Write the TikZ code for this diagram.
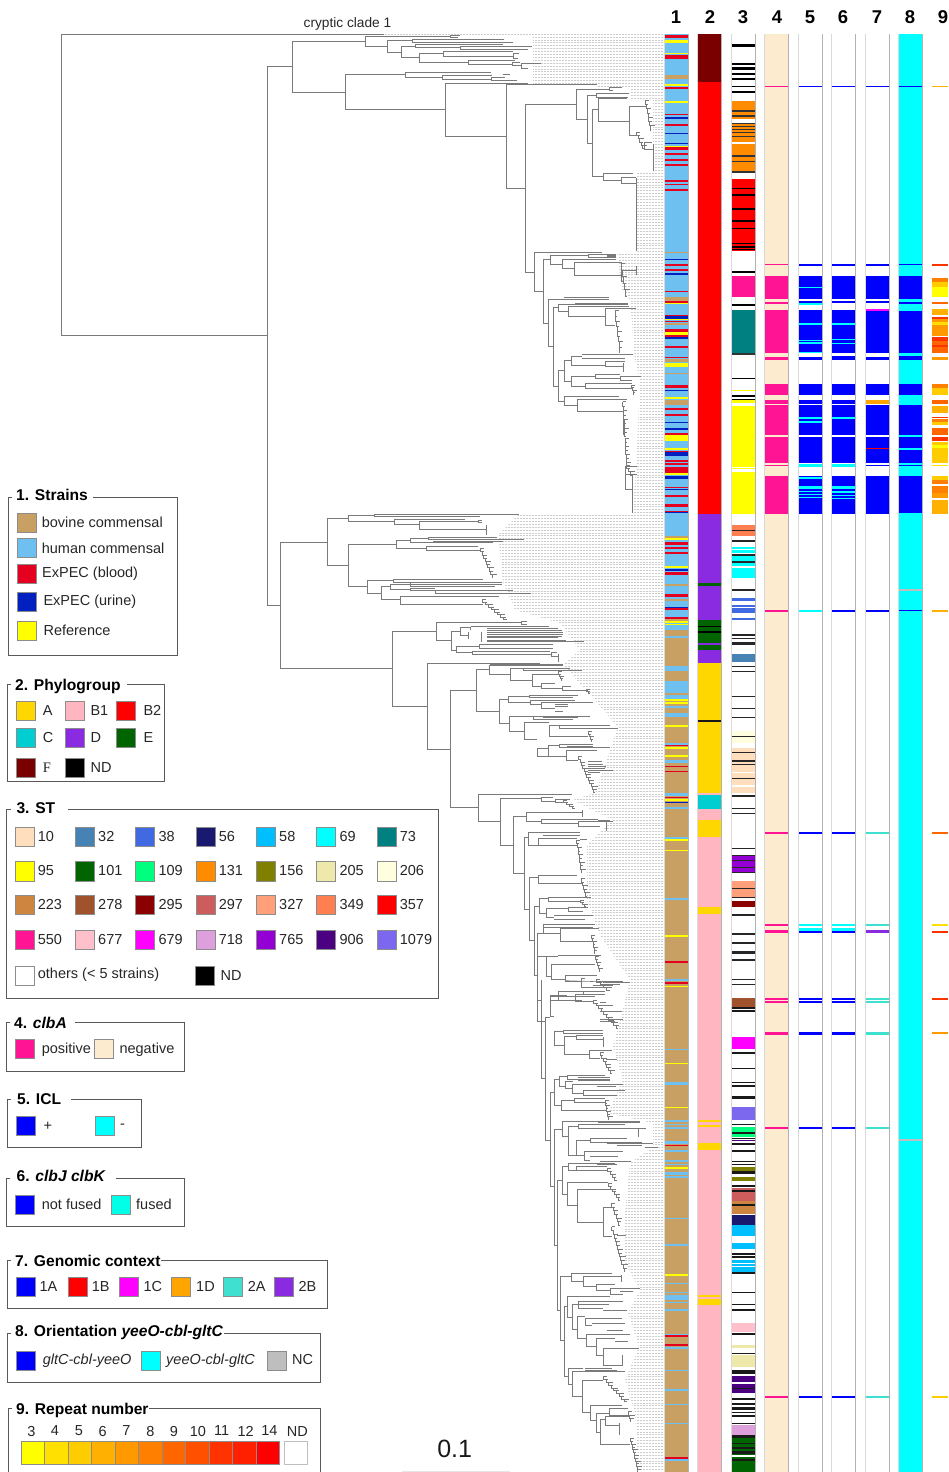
\documentclass[tikz,border=0pt]{standalone}
\usepackage{fontspec}
\setmainfont{Liberation Sans}
\newfontfamily\serifF{Liberation Serif}
\definecolor{cyan}{RGB}{0,255,255}\definecolor{magenta}{RGB}{255,0,255}\definecolor{yellow}{RGB}{255,255,0}\definecolor{red}{RGB}{255,0,0}\definecolor{blue}{RGB}{0,0,255}
\definecolor{cTan}{HTML}{C8A064}\definecolor{cHum}{HTML}{6EC0F0}\definecolor{cRed}{HTML}{E60020}\definecolor{cUr}{HTML}{0020C0}
\definecolor{cGold}{HTML}{FFD700}\definecolor{cPink}{HTML}{FFB6C1}\definecolor{cTeal}{HTML}{00CED1}\definecolor{cPur}{HTML}{8A2BE2}
\definecolor{cGrn}{HTML}{006400}\definecolor{cF}{HTML}{7A0000}\definecolor{cBis}{HTML}{FDEBD0}\definecolor{cDP}{HTML}{FF1493}
\definecolor{s10}{HTML}{FFDEBD}\definecolor{s32}{HTML}{4682B4}\definecolor{s38}{HTML}{4169E1}\definecolor{s56}{HTML}{191970}
\definecolor{s58}{HTML}{00BFFF}\definecolor{s73}{HTML}{008080}\definecolor{s109}{HTML}{00FF7F}\definecolor{s131}{HTML}{FF8C00}
\definecolor{s156}{HTML}{808000}\definecolor{s205}{HTML}{EEE8AA}\definecolor{s206}{HTML}{FFFFE0}\definecolor{s223}{HTML}{CD853F}
\definecolor{s278}{HTML}{A0522D}\definecolor{s295}{HTML}{8B0000}\definecolor{s297}{HTML}{CD5C5C}\definecolor{s327}{HTML}{FFA07A}
\definecolor{s349}{HTML}{FF7F50}\definecolor{s677}{HTML}{FFC0CB}\definecolor{s718}{HTML}{DDA0DD}\definecolor{s765}{HTML}{9400D3}
\definecolor{s906}{HTML}{4B0082}\definecolor{s1079}{HTML}{7B68EE}\definecolor{cTq}{HTML}{40E0D0}\definecolor{cFus}{HTML}{00FFE6}
\definecolor{cOr}{HTML}{FFA500}\definecolor{cNC}{HTML}{BEBEBE}
\definecolor{r3}{HTML}{FFFF00}\definecolor{r4}{HTML}{FFE000}\definecolor{r5}{HTML}{FFCC00}\definecolor{r6}{HTML}{FFB000}
\definecolor{r7}{HTML}{FF9900}\definecolor{r8}{HTML}{FF8000}\definecolor{r9}{HTML}{FF6600}\definecolor{r10}{HTML}{FF5000}
\definecolor{r11}{HTML}{FF3300}\definecolor{r12}{HTML}{FF2000}\definecolor{r14}{HTML}{FF0000}
\expandafter\def\csname xl1\endcsname{664}\expandafter\def\csname xr1\endcsname{688}
\expandafter\def\csname xl2\endcsname{697}\expandafter\def\csname xr2\endcsname{721}
\expandafter\def\csname xl3\endcsname{731}\expandafter\def\csname xr3\endcsname{755}
\expandafter\def\csname xl4\endcsname{764}\expandafter\def\csname xr4\endcsname{788}
\expandafter\def\csname xl5\endcsname{798}\expandafter\def\csname xr5\endcsname{822}
\expandafter\def\csname xl6\endcsname{831}\expandafter\def\csname xr6\endcsname{855}
\expandafter\def\csname xl7\endcsname{865}\expandafter\def\csname xr7\endcsname{889}
\expandafter\def\csname xl8\endcsname{898}\expandafter\def\csname xr8\endcsname{922}
\expandafter\def\csname xl9\endcsname{932}\expandafter\def\csname xr9\endcsname{948}
\newcommand\Cb[3]{\foreach \p/\q in {#3}{\fill[#2] (\csname xl#1\endcsname,\p) rectangle (\csname xr#1\endcsname,\q);}}
\newcommand\Br[5]{\draw[tr] (#3,#2) -| (#1,#4) -- (#5,#4);}
\newcommand\Ln[3]{\draw[tr] (#1,#2) -- (#3,#2);}
\newcommand\Stair[5]{\foreach \i in {1,...,#5}{%
 \pgfmathsetmacro\xa{#1+(#3-#1)*(\i-1)/#5}\pgfmathsetmacro\xb{#1+(#3-#1)*\i/#5}%
 \pgfmathsetmacro\ya{#2+(#4-#2)*(\i-1)/#5}\pgfmathsetmacro\yb{#2+(#4-#2)*\i/#5}%
 \pgfmathsetmacro\tp{\xa+4+mod(\i*7,13)}%
 \draw[tr,line width=.45pt] (\xa,\ya)--(\xa,\yb)--(\xb,\yb); \draw[tr,line width=.45pt] (\xa,\ya)--(\tp,\ya);}}
\newcommand\Sw[3]{\fill[#3,draw=black!45,line width=.6pt] (#1,#2) rectangle ++(57,57);}
\newcommand\Lg[7]{\draw[frm] (#1+12,#2) -| (#1,#4) -| (#3,#2) -- (#5,#2);\node[ttl] at (#1+23,#2+#7) {#6};}
\tikzset{
 tr/.style={draw=black!52,line width=.6pt},
 frm/.style={draw=black!65,line width=.7pt},
 ttl/.style={anchor=west,inner sep=0pt,font=\fontsize{15.6}{17}\selectfont\bfseries},
 lb/.style={anchor=west,inner sep=0pt,font=\fontsize{14.5}{16}\selectfont,text=black!85},
 hd/.style={inner sep=0pt,font=\fontsize{18.5}{20}\selectfont\bfseries},
 zA/.style={shift={(0,0)},x=1pt,y=-.33333pt},
 zB/.style={shift={(0,500)},x=1pt,y=-.33333pt},
 zC/.style={shift={(0,1000)},x=1pt,y=-.33333pt},
}
\begin{document}
\begin{tikzpicture}[x=1pt,y=-1pt]
\useasboundingbox (0,0) rectangle (948,1472);
% leader lines
\begin{scope}
\clip (383,34) -- (383,37) -- (533,37) -- (533,84) -- (597,84) -- (597,88) -- (630,88) -- (630,100) -- (653,100) -- (653,172) -- (637,172) -- (637,252) -- (617,252) -- (622,290) -- (630,300) -- (635,360) -- (640,380) -- (636,470) -- (632,514)
 -- (519,514) -- (498,535) -- (503,582) -- (515,610) -- (560,623) -- (580,650) -- (563,665) -- (595,700) -- (618,727) -- (595,793) -- (573,800) -- (613,820) -- (587,845) -- (587,900) -- (600,935) -- (630,980) -- (622,1013) -- (613,1047) -- (623,1080) -- (608,1113) -- (653,1123) -- (653,1147) -- (630,1163) -- (625,1213) -- (625,1263) -- (640,1290) -- (628,1313) -- (639,1347) -- (625,1380) -- (635,1413) -- (639,1472) -- (663,1472) -- (663,34) -- cycle;
\foreach \yy in {34,36.9,...,1472}{\draw[black!20,line width=.5pt,dash pattern=on .6pt off .9pt] (380,\yy) -- (663,\yy);}
\end{scope}
% tree
\draw[tr] (384,34) -| (61,335) -- (267,335);
\draw[tr] (267,67) -- (267,605);
\begin{scope}[shift={(260,0)},x=.33333pt,y=-.33333pt]
\Ln{20}{200}{98}
\Br{98}{124}{315}{277}{256}
\Br{315}{110}{570}{138}{382}\Br{570}{105}{600}{112}{595}
\Br{382}{122}{457}{156}{425}\Br{457}{118}{733}{126}{760}
\Br{425}{139}{467}{173}{478}\Br{467}{134}{730}{143}{600}\Br{600}{140}{815}{148}{803}
\Br{478}{160}{550}{186}{625}\Br{550}{154}{760}{168}{760}\Br{760}{160}{778}{175}{775}
\Br{625}{181}{765}{192}{757}\Br{757}{186}{780}{197}{783}\Br{783}{190}{843}{205}{805}
\Br{256}{224}{437}{328}{557}
\Br{437}{217}{692}{232}{547}\Br{547}{225}{695}{237}{695}\Br{695}{232}{735}{240}{770}\Ln{730}{224}{750}
\Br{557}{250}{803}{409}{740}
\Br{740}{254}{1010}{565}{797}
\Br{797}{313}{950}{817}{824}
\Br{950}{268}{1047}{358}{983}\Br{1047}{262}{1087}{272}{1060}
\Br{983}{285}{1010}{430}{996}\Br{1010}{281}{1107}{291}{1105}
\Br{996}{328}{1016}{530}{1030}
\Br{1016}{296}{1100}{363}{1107}
\Br{1107}{318}{1157}{406}{1130}
\Stair{1157}{300}{1173}{390}{7}
\Stair{1130}{396}{1152}{445}{5}
\Br{1152}{428}{1175}{448}{1180}\draw[tr] (1181,432)--(1181,512);
\Br{1030}{520}{1118}{541}{1085}\Br{1085}{533}{1128}{550}{1128}\draw[tr] (1128,533)--(1128,752);
% second subclade
\Br{824}{758}{1025}{875}{851}
\Br{851}{778}{872}{970}{866}
\Br{872}{766}{985}{793}{908}\Br{985}{762}{1068}{772}{1040}\draw[tr,line width=1.1pt] (1040,768)--(1068,768);\draw[tr,line width=1.1pt] (1040,773)--(1068,773);
\Br{908}{778}{1068}{805}{944}\Br{944}{788}{1085}{826}{1083}
\Br{1083}{810}{1128}{845}{1090}\draw[tr] (1128,798)--(1128,826);\Stair{1083}{790}{1100}{888}{5}
\Br{866}{897}{1048}{1040}{880}\Ln{912}{893}{1048}
\Br{880}{922}{895}{1158}{896}
\Br{895}{912}{1080}{935}{925}\Br{925}{918}{1108}{948}{1035}\draw[tr,line width=1.1pt] (945,912)--(1105,912);
\Br{1035}{925}{1127}{975}{1065}\Stair{1065}{932}{1080}{1056}{8}
\Br{896}{1110}{912}{1205}{914}
\Br{912}{1080}{935}{1143}{935}
\Br{935}{1068}{965}{1095}{1037}\Ln{965}{1064}{1120}\Ln{965}{1076}{1095}\Br{1037}{1085}{1095}{1100}{1090}\draw[tr] (1090,1090)--(1090,1115);
\Br{935}{1130}{1005}{1158}{975}\Br{1005}{1122}{1080}{1135}{1080}\Br{1080}{1130}{1142}{1142}{1115}
\Br{975}{1150}{1115}{1166}{1115}\Stair{1115}{1156}{1122}{1184}{4}
\Br{914}{1190}{1078}{1215}{952}
\Br{952}{1198}{1100}{1234}{1088}
\Stair{1088}{1205}{1095}{1310}{8}\draw[tr,line width=1.1pt] (1090,1230)--(1090,1306);
\Stair{1095}{1315}{1100}{1400}{7}
\Br{1097}{1400}{1130}{1468}{1117}\draw[tr] (1097,1423)--(1130,1423);\draw[tr] (1116,1425)--(1116,1540);
\Stair{1100}{1395}{1118}{1425}{3}
\end{scope}
\begin{scope}[shift={(260,500)},x=.33333pt,y=-.33333pt]
\Ln{20}{315}{60}
\Br{60}{126}{202}{506}{396}
\Br{202}{55}{265}{196}{264}
\Br{265}{46}{343}{64}{404}\Br{343}{43}{777}{48}{660}
\Br{404}{57}{615}{72}{478}\Br{478}{65}{655}{87}{680}\Br{655}{60}{665}{68}{665}\draw[tr](680,75)--(680,105);
\Br{264}{132}{409}{260}{322}
\Br{409}{120}{450}{145}{500}
\Br{450}{115}{505}{127}{700}\Br{505}{112}{712}{119}{793}\draw[tr,line width=1pt](520,123)--(728,123);
\Br{500}{140}{655}{151}{662}\Stair{662}{145}{700}{232}{9}
\Br{322}{240}{400}{280}{364}\Br{400}{238}{668}{246}{685}
\Br{364}{260}{390}{298}{422}
\Br{390}{252}{450}{268}{450}\Br{450}{247}{725}{258}{705}\draw[tr,line width=1pt](450,252)--(725,252);
\Br{450}{264}{525}{272}{705}\Br{525}{270}{760}{280}{605}\Ln{605}{279}{813}
\Br{422}{288}{718}{312}{668}
\Stair{668}{298}{740}{358}{8}
\Br{396}{394}{528}{619}{502}
\Br{528}{368}{785}{421}{575}\Br{785}{365}{802}{373}{802}
\Br{575}{395}{601}{450}{590}
\Br{601}{382}{632}{406}{625}\Ln{632}{380}{868}
\foreach \yy/\xx in {386/893,392/905,397/908,402/908,408/905,413/895,420/917,425/973}{\draw[tr,line width=.9pt](680,\yy)--(\xx,\yy);}
\draw[tr](632,380)--(632,390)(625,396)--(625,416)(665,395)--(665,425);
\Br{590}{438}{658}{458}{638}\Br{658}{433}{880}{445}{880}\Br{638}{453}{870}{463}{875}\Br{875}{458}{890}{468}{895}\draw[tr](895,463)--(895,485);
\Br{502}{490}{840}{748}{571}\draw[tr,line width=.9pt](690,494)--(910,494);
\Br{571}{572}{650}{923}{655}
\Br{650}{508}{687}{634}{718}
\Br{687}{497}{910}{522}{752}
\Br{752}{505}{790}{540}{817}\Br{790}{505}{930}{511}{967}\Stair{895}{515}{905}{540}{4}
\Br{817}{524}{895}{558}{845}\Br{845}{550}{885}{565}{907}\Br{907}{560}{932}{572}{985}\Stair{980}{568}{990}{580}{2}
\Br{718}{598}{745}{670}{748}
\Br{745}{590}{808}{607}{810}\Br{808}{585}{953}{592}{940}\Br{810}{600}{945}{612}{845}
\Br{845}{606}{1000}{625}{885}\draw[tr,line width=.9pt](885,612)--(925,612)(885,620)--(925,620);\Ln{885}{635}{910}
\Br{748}{648}{820}{694}{794}\Br{820}{648}{990}{658}{940}\Ln{850}{652}{955}
\Br{794}{668}{868}{718}{832}
\Br{868}{677}{898}{708}{985}\Br{898}{675}{1050}{685}{975}\Ln{975}{686}{1073}\Stair{985}{695}{996}{725}{4}
\Br{832}{745}{866}{768}{920}
\Br{866}{735}{897}{768}{886}\Br{897}{732}{1000}{742}{1050}\draw[tr,line width=1pt](920,738)--(1000,738);
\Br{920}{752}{1012}{780}{955}\Stair{955}{770}{1005}{878}{12}
\foreach \yy/\xx in {785/1025,792/1030,798/1038,805/1035,812/1058,818/1020}{\draw[tr](985,\yy)--(\xx,\yy);}
\Br{655}{883}{935}{965}{721}
\Br{721}{896}{843}{1036}{761}
\Br{843}{892}{880}{903}{885}\Br{885}{897}{930}{908}{910}\Stair{910}{902}{945}{925}{4}
\Br{761}{950}{800}{1121}{793}
\Br{800}{936}{968}{965}{845}\draw[tr](968,930)--(968,950);
\Br{845}{958}{1015}{970}{955}\Br{955}{965}{1060}{978}{1020}\draw[tr](1040,965)--(1040,992);\Ln{1015}{960}{1050}
\draw[tr](793,1012)--(793,1228)--(807,1228);\Ln{793}{1012}{805}
\Br{805}{998}{848}{1036}{835}\Ln{848}{1006}{960}\Ln{848}{998}{960}\Br{835}{1016}{950}{1036}{950}
\Stair{950}{1020}{965}{1118}{9}\Ln{960}{1018}{982}
\Br{807}{1132}{835}{1322}{823}\Br{835}{1126}{950}{1150}{965}\Stair{965}{1135}{980}{1188}{5}
\Br{823}{1218}{838}{1425}{832}
\Br{838}{1195}{865}{1240}{858}\Br{865}{1192}{992}{1204}{960}\Br{858}{1225}{925}{1252}{882}\Stair{960}{1200}{978}{1218}{3}\Br{925}{1222}{985}{1235}{970}\Ln{882}{1245}{1000}\Ln{882}{1258}{975}
\Br{832}{1300}{850}{1425}{830}\Br{850}{1272}{1005}{1282}{1000}
\Br{850}{1272}{878}{1300}{900}\Br{900}{1285}{1018}{1325}{995}\Stair{995}{1305}{1005}{1360}{6}
\Br{833}{1370}{858}{1500}{845}\Br{858}{1368}{895}{1430}{875}
\Br{875}{1392}{915}{1438}{915}\Ln{895}{1365}{1022}\Ln{915}{1392}{1005}\Stair{1005}{1370}{1020}{1415}{5}
\Br{915}{1425}{1010}{1445}{965}\Br{965}{1435}{975}{1462}{1010}\Ln{1030}{1448}{1110}\Ln{1000}{1455}{1058}\Stair{1010}{1438}{1050}{1470}{4}
\Ln{870}{1490}{1005}\Br{870}{1487}{920}{1500}{965}
\end{scope}
\begin{scope}[shift={(440,980)},x=.33333pt,y=-.33333pt]
\draw[tr] (293,0)--(293,125)--(317,125);
\draw[tr] (304,0)--(304,296)--(318,296);
\draw[tr] (375,2)--(570,8);\Ln{470}{5}{550}\Ln{470}{22}{515}\Ln{500}{14}{540}
\draw[tr] (317,112)--(317,480)--(330,480);\Ln{317}{112}{330}
\Br{330}{45}{355}{110}{342}\Br{355}{35}{430}{62}{405}\Br{430}{35}{495}{42}{490}
\Br{405}{44}{495}{65}{460}\Stair{460}{60}{535}{145}{10}
\foreach \yy/\xx in {68/497,75/520,93/545,119/548,125/525}{\draw[tr](480,\yy)--(\xx,\yy);}
\Br{342}{153}{370}{197}{372}\Br{370}{150}{490}{160}{490}
\Br{372}{170}{410}{222}{448}\Br{410}{165}{488}{178}{490}\draw[tr](490,170)--(490,200);
\Br{448}{210}{515}{236}{480}\Stair{480}{216}{515}{280}{7}\Ln{498}{238}{530}
\Br{330}{338}{343}{620}{342}
\Br{343}{297}{357}{376}{364}
\Br{357}{290}{382}{320}{375}\Br{382}{286}{495}{298}{510}\draw[tr,line width=.9pt](415,292)--(510,292)(415,302)--(510,302);
\Br{375}{305}{398}{325}{398}\Br{398}{312}{548}{340}{430}\Br{430}{330}{555}{345}{530}\Ln{470}{320}{528}
\Br{364}{360}{403}{390}{500}\Br{403}{355}{495}{368}{495}\Stair{495}{360}{505}{418}{7}
\Br{342}{447}{366}{795}{352}
\Br{366}{423}{600}{470}{385}
\Br{385}{440}{415}{525}{408}\Br{415}{432}{555}{445}{595}\Ln{475}{428}{600}\draw[tr](596,445)--(596,470);\Ln{596}{445}{618}
\Br{408}{480}{450}{525}{432}\Br{450}{475}{560}{488}{605}\Ln{500}{490}{640}\Ln{530}{497}{605}\Ln{615}{503}{653}
\Br{432}{515}{480}{542}{450}\Ln{480}{513}{550}\Ln{450}{530}{535}\Ln{480}{543}{572}\draw[tr,line width=.9pt](470,552)--(530,552);
\Br{352}{600}{367}{990}{360}
\Br{367}{560}{385}{643}{382}
\Br{385}{550}{525}{570}{410}\Br{410}{560}{500}{572}{505}\Stair{503}{565}{530}{600}{4}
\Br{382}{608}{505}{677}{412}\Stair{505}{610}{540}{660}{6}
\Br{412}{628}{515}{726}{490}
\Br{490}{682}{515}{770}{515}\Stair{515}{670}{540}{735}{6}
\Stair{515}{740}{555}{875}{12}\Ln{530}{765}{558}
\Br{360}{890}{393}{1080}{372}
\Br{393}{880}{515}{905}{430}\Br{430}{888}{545}{918}{470}\draw[tr](545,885)--(545,905);
\Br{470}{912}{525}{930}{510}\Br{510}{925}{600}{942}{550}\Ln{540}{935}{580}
\Br{372}{980}{382}{1190}{384}
\Br{382}{950}{510}{1013}{396}\draw[tr,line width=.9pt](412,949)--(510,949);
\Br{396}{972}{508}{1048}{412}\Br{415}{964}{550}{985}{490}\Ln{490}{992}{560}
\Br{412}{1010}{435}{1075}{440}\Br{435}{1015}{545}{1035}{455}\Ln{455}{1030}{555}\Ln{500}{1050}{550}
\Br{440}{1062}{500}{1100}{470}\Br{470}{1075}{525}{1125}{490}\Ln{500}{1062}{570}\Ln{525}{1085}{565}
\Br{490}{1105}{550}{1155}{548}\Ln{530}{1105}{597}\draw[tr](548,1125)--(548,1155);
\Br{384}{1165}{430}{1213}{397}\draw[tr,line width=.9pt](435,1165)--(515,1165)(435,1172)--(530,1172);
\Br{397}{1175}{555}{1250}{428}
\Br{428}{1200}{490}{1298}{450}\Stair{490}{1190}{560}{1265}{9}
\Br{450}{1275}{545}{1322}{468}
\Br{468}{1300}{508}{1358}{482}\Br{508}{1285}{565}{1305}{585}\Stair{565}{1295}{572}{1325}{3}
\Br{482}{1318}{497}{1393}{570}\Br{497}{1310}{570}{1335}{537}\draw[tr](537,1330)--(537,1366);
\Stair{572}{1375}{595}{1476}{12}
\end{scope}
% columns base
\Cb{1}{cHum}{34/630}\Cb{1}{cTan}{630/1472}
\Cb{2}{cF}{34/82}\Cb{2}{red}{82/514}
\Cb{4}{cBis}{34/1472}
\Cb{8}{cyan}{34/1472}
\begin{scope}[zA]
\Cb{1}{cRed}{105/115,164/178,262/266,342/346,372/377,441/450,460/466,477/483,492/498,541/545,551/555,568/572,793/797,808/813,872/876,904/908,945/950,962/966,988/997,1006/1010,1038/1044,1070/1075,1155/1163,1224/1230,1243/1247,1300/1304,1352/1356,1380/1385,1390/1395,1400/1420,1460/1465,1484/1490}
\Cb{1}{yellow}{120/130,158/163,252/258,304/309,437/441,908/912,958/961,997/1006,1090/1102,1192/1196,1305/1322,1344/1350,1420/1424}
\Cb{1}{cTan}{226/238,756/760,891/903,970/976,1076/1086,1118/1122,1200/1216}
\Cb{1}{cUr}{350/356,400/403,430/433,776/780,820/826,948/956,1012/1016,1170/1173,1265/1268,1285/1289,1356/1368,1428/1436,1468/1471}
\Cb{3}{black}{132/141,188/194,200/210,220/225,235/240,258/262,273/278,814/819,912/917,1134/1137,1186/1190,1197/1200}
\Cb{3}{s131}{302/357,368/425,432/518}
\Cb{3}{black!80}{330/335,346/350,370/373,378/381,388/391,396/399,408/412,466/470,484/487,514/518}
\Cb{3}{red}{536/754}
\Cb{3}{black}{563/567,583/587,625/629,661/665,683/687,730/733,737/743,747/751}
\Cb{3}{cDP}{828/890}\Cb{3}{s73}{930/1060}\Cb{3}{black!80}{1060/1064}
\Cb{3}{yellow}{1170/1173,1200/1210,1217/1400,1403/1408,1416/1500}
\Cb{4}{cDP}{258/261,793/796,828/897,905/913,930/1058,1070/1080,1153/1185,1200/1212,1216/1306,1310/1390,1395/1398,1427/1500}
\Cb{5}{blue}{258/262,792/797,828/897,903/910,930/1056,1070/1080,1153/1185,1200/1212,1216/1306,1310/1390,1427/1500}
\Cb{5}{cyan}{860/864,908/914,970/975,1020/1023,1027/1031,1055/1059,1250/1256,1262/1268,1393/1400,1432/1437,1458/1466,1474/1477,1483/1486,1492/1495}
\Cb{6}{blue}{258/262,792/797,828/897,903/910,930/1058,1068/1080,1153/1185,1200/1212,1216/1306,1310/1390,1427/1500}
\Cb{6}{cyan}{970/975,1018/1021,1029/1033,1252/1256,1392/1400,1458/1466,1474/1478,1484/1487,1493/1496}
\Cb{7}{blue}{258/262,792/797,828/897,904/910,933/1058,1070/1080,1153/1185,1216/1306,1310/1343,1348/1390,1395/1399,1427/1500}
\Cb{7}{magenta}{928/933}\Cb{7}{cOr}{1200/1212}\Cb{7}{red}{1343/1348}
\Cb{8}{blue}{258/261,792/796,828/897,905/911,934/1058,1068/1080,1153/1185,1216/1306,1310/1343,1349/1390,1394/1399,1427/1500}
\Cb{9}{r6}{258/262,928/945,1217/1238}\Cb{9}{r11}{792/797,1250/1254}
\Cb{9}{r8}{833/847,1153/1165,1258/1265,1440/1452,1458/1480}\Cb{9}{r5}{847/860,1165/1185,1327/1390,1265/1274,1427/1440}
\Cb{9}{r3}{860/890,1335/1345}\Cb{9}{r9}{907/912,1200/1212,1285/1306}
\Cb{9}{r7}{950/1008,1070/1080,1480/1495}\Cb{9}{r11}{950/958,1012/1022,1035/1042,1310/1322}\Cb{9}{r9}{1022/1035,1042/1060}\Cb{9}{r4}{965/975,1394/1398}
\end{scope}
\begin{scope}[zB]
\Cb{1}{cRed}{12/20,33/37,125/135,140/146,156/161,215/224,283/292,325/331,352/356,735/738,797/801,812/816,890/895,1384/1388,1446/1451}
\Cb{1}{yellow}{115/120,198/204,364/368,372/376,598/603,607/611,676/681,741/748,766/771,898/903,1018/1022,1049/1053,1305/1310,1458/1462}
\Cb{1}{cUr}{37/40,207/214,321/325,905/910}
\Cb{1}{cTan}{108/114,252/257,298/303,358/362}
\Cb{1}{cHum}{408/414,498/514,544/580,585/597,618/624,640/650,728/734,780/790,880/888,920/928,1012/1016,1194/1200,1436/1442}
\Cb{2}{cPur}{42/250,257/360,430/436,450/488}\Cb{2}{cGrn}{250/257,360/430,436/450}
\Cb{2}{black}{378/382,393/398}
\Cb{2}{cGold}{490/880,960/1012,1222/1242}\Cb{2}{black!90}{660/665}
\Cb{2}{cPink}{880/885,927/960,1012/1222,1242/1500}\Cb{2}{cTeal}{885/927}\Cb{2}{red}{0/42}
\Cb{3}{yellow}{0/42}\Cb{3}{s349}{74/108}
\Cb{3}{cyan}{140/146,150/158,167/198,205/235}
\Cb{3}{s38}{293/303,315/320,323/340,355/360}\Cb{3}{s32}{462/486}
\Cb{3}{s206}{692/730}\Cb{3}{s10}{744/800,802/815,818/855,860/880}
\Cb{3}{s765}{1068/1118}\Cb{3}{s327}{1143/1190}\Cb{3}{s295}{1202/1220}\Cb{3}{s278}{1494/1500}
\Cb{3}{black!85}{89/93,121/125,162/167,183/188,267/272,403/407,413/417,426/434,498/502,513/517,588/592,624/628,650/653,708/712,755/759,781/786,791/795,834/838,886/891,923/926,938/942,1043/1047,1064/1067,1081/1084,1101/1105,1117/1120,1164/1168,1190/1194,1243/1247,1300/1304,1327/1331,1353/1362,1378/1382,1437/1440,1452/1456}
\Cb{4}{cDP}{0/42,329/335,995/1001,1273/1278,1290/1299,1494/1500}
\Cb{5}{blue}{0/42,995/1001,1293/1299,1494/1500}\Cb{5}{cyan}{329/335,1273/1278,1284/1292}
\Cb{6}{blue}{0/42,329/335,995/1001,1293/1299,1494/1500}\Cb{6}{cyan}{1273/1278,1284/1292}
\Cb{7}{blue}{0/42,329/335}\Cb{7}{cTq}{995/1001,1273/1278,1494/1500}\Cb{7}{cPur}{1289/1299}
\Cb{8}{blue}{0/40,329/334}\Cb{8}{cNC}{267/272}
\Cb{9}{r6}{0/42,329/335}\Cb{9}{r9}{995/1001}\Cb{9}{r4}{1273/1278}\Cb{9}{r11}{1293/1298,1494/1500}
\end{scope}
\begin{scope}[zC]
\Cb{1}{cHum}{146/151,246/256,360/366,371/376,381/386,424/432,450/455,481/486,491/496,515/524,528/533,654/658,733/737,849/853,875/880,885/900,906/910,928/932,1003/1006,1042/1046,1110/1114,1168/1172,1211/1214,1268/1272,1378/1382}
\Cb{1}{yellow}{188/192,320/324,502/506,822/827}
\Cb{1}{cRed}{434/438,1006/1010,1032/1037,1372/1377}
\Cb{2}{cPink}{0/1416}\Cb{2}{cGold}{360/365,376/381,430/449,885/890,896/916}
\Cb{3}{s278}{0/20}\Cb{3}{magenta}{110/146}\Cb{3}{s1079}{320/360}\Cb{3}{s109}{382/412}
\Cb{3}{s156}{502/514,530/543}\Cb{3}{s297}{565/603}\Cb{3}{s223}{603/642}\Cb{3}{s56}{645/676}
\Cb{3}{s58}{676/707,728/748,780/790,793/798,800/818}\Cb{3}{s677}{968/995}\Cb{3}{s205}{1036/1043,1065/1100}
\Cb{3}{s906}{1127/1147,1153/1178,421/424}\Cb{3}{s718}{1274/1305}\Cb{3}{cGrn}{1315/1366,1372/1416}
\Cb{3}{black!90}{22/26,30/35,156/161,204/207,245/250,256/260,288/298,372/376,397/402,415/418,430/434,450/455,482/486,491/496,514/522,555/560,570/575,612/618,760/764,769/774,817/822,875/879,912/916,927/932,1000/1004,1058/1062,1110/1122,1163/1167,1195/1199,1210/1214,1220/1230,1236/1240,1246/1250,1268/1273,1305/1315,1328/1332,1340/1348,1352/1362,1376/1382}
\Cb{4}{cDP}{3/8,97/104,381/386,1188/1194}
\Cb{5}{blue}{3/8,97/104,381/386,1188/1194}\Cb{6}{blue}{3/8,97/104,381/386,1188/1194}
\Cb{7}{cTq}{3/8,97/104,381/386,1188/1194}
\Cb{8}{cNC}{418/423}
\Cb{9}{r7}{97/103}\Cb{9}{r5}{1188/1193}
\end{scope}
% column rules
\foreach \n in {1,...,8}{
 \draw[black!30,line width=.8pt] (\csname xr\n\endcsname,34) -- (\csname xr\n\endcsname,1472);
 \draw[black!15,line width=.6pt] (\csname xl\n\endcsname,34) -- (\csname xl\n\endcsname,1472);}
% headings
\foreach \n/\xx in {1/676,2/710,3/743,4/777,5/810,6/843,7/877,8/910,9/943}{\node[hd] (h\n) at (\xx,17) {\n};}
\node[inner sep=0pt,font=\fontsize{13.7}{15}\selectfont,text=black!85] (cc) at (347.5,23.5) {cryptic clade 1};
% legends 1-3
\begin{scope}[shift={(0,480)},x=.33333pt,y=-.338pt]
\Lg{25}{52}{532}{518}{280}{1. Strains}{-8}
\foreach \yy/\cc/\tx/\xx in {98/cTan/bovine commensal/125,173/cHum/human commensal/125,248/cRed/ExPEC (blood)/126,332/cUr/ExPEC (urine)/130,417/yellow/Reference/130}{\Sw{52}{\yy}{\cc}\node[lb] at (\xx,\yy+28) {\tx};}
\Lg{22}{606}{493}{892}{380}{2. Phylogroup}{4}
\foreach \xa/\yy/\cc/\tx/\xx in {49/655/cGold/A/128,196/655/cPink/B1/271,349/655/red/B2/430,49/735/cTeal/C/128,196/735/cPur/D/271,349/735/cGrn/E/430,196/822/black/ND/271}{\Sw{\xa}{\yy}{\cc}\node[lb] at (\xx,\yy+28) {\tx};}
\Sw{49}{822}{cF}\node[lb,font=\fontsize{14.5}{16}\selectfont\serifF] at (128,850) {F};
\Lg{20}{974}{1315}{1533}{203}{\hspace{2pt}3. ST}{-2}
\foreach \xa/\yy/\cc/\tx in {45/1028/s10/10,226/1028/s32/32,407/1028/s38/38,588/1028/s56/56,769/1028/s58/58,950/1028/cyan/69,1131/1028/s73/73,
45/1129/yellow/95,226/1129/cGrn/101,407/1129/s109/109,588/1129/s131/131,769/1129/s156/156,950/1129/s205/205,1131/1129/s206/206,
45/1229/s223/223,226/1229/s278/278,407/1229/s295/295,588/1229/s297/297,769/1229/s327/327,950/1229/s349/349,1131/1229/red/357,
45/1332/cDP/550,226/1332/s677/677,407/1332/magenta/679,588/1332/s718/718,769/1332/s765/765,950/1332/s906/906,1131/1332/s1079/1079}{\Sw{\xa}{\yy}{\cc}\node[lb] at (\xa+68,\yy+27) {\tx};}
\Sw{45}{1438}{white}\node[lb] at (113,1465) {others (< 5 strains)};
\Sw{585}{1438}{black}\node[lb] at (661,1465) {ND};
\end{scope}
% legends 4-9
\begin{scope}[shift={(0,1000)},x=.33333pt,y=-.33333pt]
\Lg{19}{68}{553}{213}{225}{4. \textit{clbA}}{1}
\Sw{46}{119}{cDP}\node[lb] at (125,148) {positive};\Sw{283}{119}{cBis}\node[lb] at (358,148) {negative};
\Lg{22}{298}{424}{443}{212}{\hspace{2pt}5. ICL}{-2}
\Sw{49}{350}{blue}\node[lb] at (130,378) {+};\Sw{286}{350}{cyan}\node[lb] at (360,378) {-};
\Lg{19}{535}{553}{680}{347}{\hspace{2.5pt}6. \textit{clbJ clbK}}{-8}
\Sw{46}{586}{blue}\node[lb] at (125,614) {not fused};\Sw{335}{586}{cFus}\node[lb] at (408,614) {fused};
\Lg{22}{781}{982}{926}{482}{7. Genomic context}{1}
\foreach \xa/\cc/\tx/\xx in {49/blue/1A/118,204/red/1B/275,359/magenta/1C/430,514/cOr/1D/588,669/cTq/2A/743,824/cPur/2B/895}{\Sw{\xa}{833}{\cc}\node[lb] at (\xx,860) {\tx};}
\Lg{22}{1001}{962}{1147}{672}{8. Orientation \textit{yeeO-cbl-gltC}}{-5}
\Sw{49}{1053}{blue}\node[lb] at (128,1081) {\textit{gltC-cbl-yeeO}};
\Sw{423}{1053}{cyan}\node[lb] at (498,1081) {\textit{yeeO-cbl-gltC}};
\Sw{801}{1053}{cNC}\node[lb] at (876,1078) {NC};
\draw[frm] (37,1224) -| (25,1416) (962,1416) |- (447,1224);
\node[ttl] at (48,1231) {9. Repeat number};
\foreach \n/\cc/\tx/\xc in {0/r3/3/94,1/r4/4/165,2/r5/5/237,3/r6/6/308,4/r7/7/379,5/r8/8/451,6/r9/9/522,7/r10/10/594,8/r11/11/665,9/r12/12/737,10/r14/14/808}{
 \fill[\cc,draw=black!45,line width=.5pt] (63+\n*70.45,1324) rectangle ++(70.45,70);
 \node[inner sep=0pt,font=\fontsize{14.5}{16}\selectfont,text=black!85] at (\xc,1293) {\tx};}
\fill[white,draw=black!25,line width=.8pt] (853,1324) rectangle (923,1394);
\node[inner sep=0pt,font=\fontsize{14.5}{16}\selectfont,text=black!85] at (892,1296) {ND};
\node[inner sep=0pt,font=\fontsize{25}{26}\selectfont,text=black!90] (sc) at (1364,1347) {0.1};
\draw[black!10,line width=.8pt] (1207,1414) -- (1530,1414);
\end{scope}
\end{tikzpicture}
\end{document}
